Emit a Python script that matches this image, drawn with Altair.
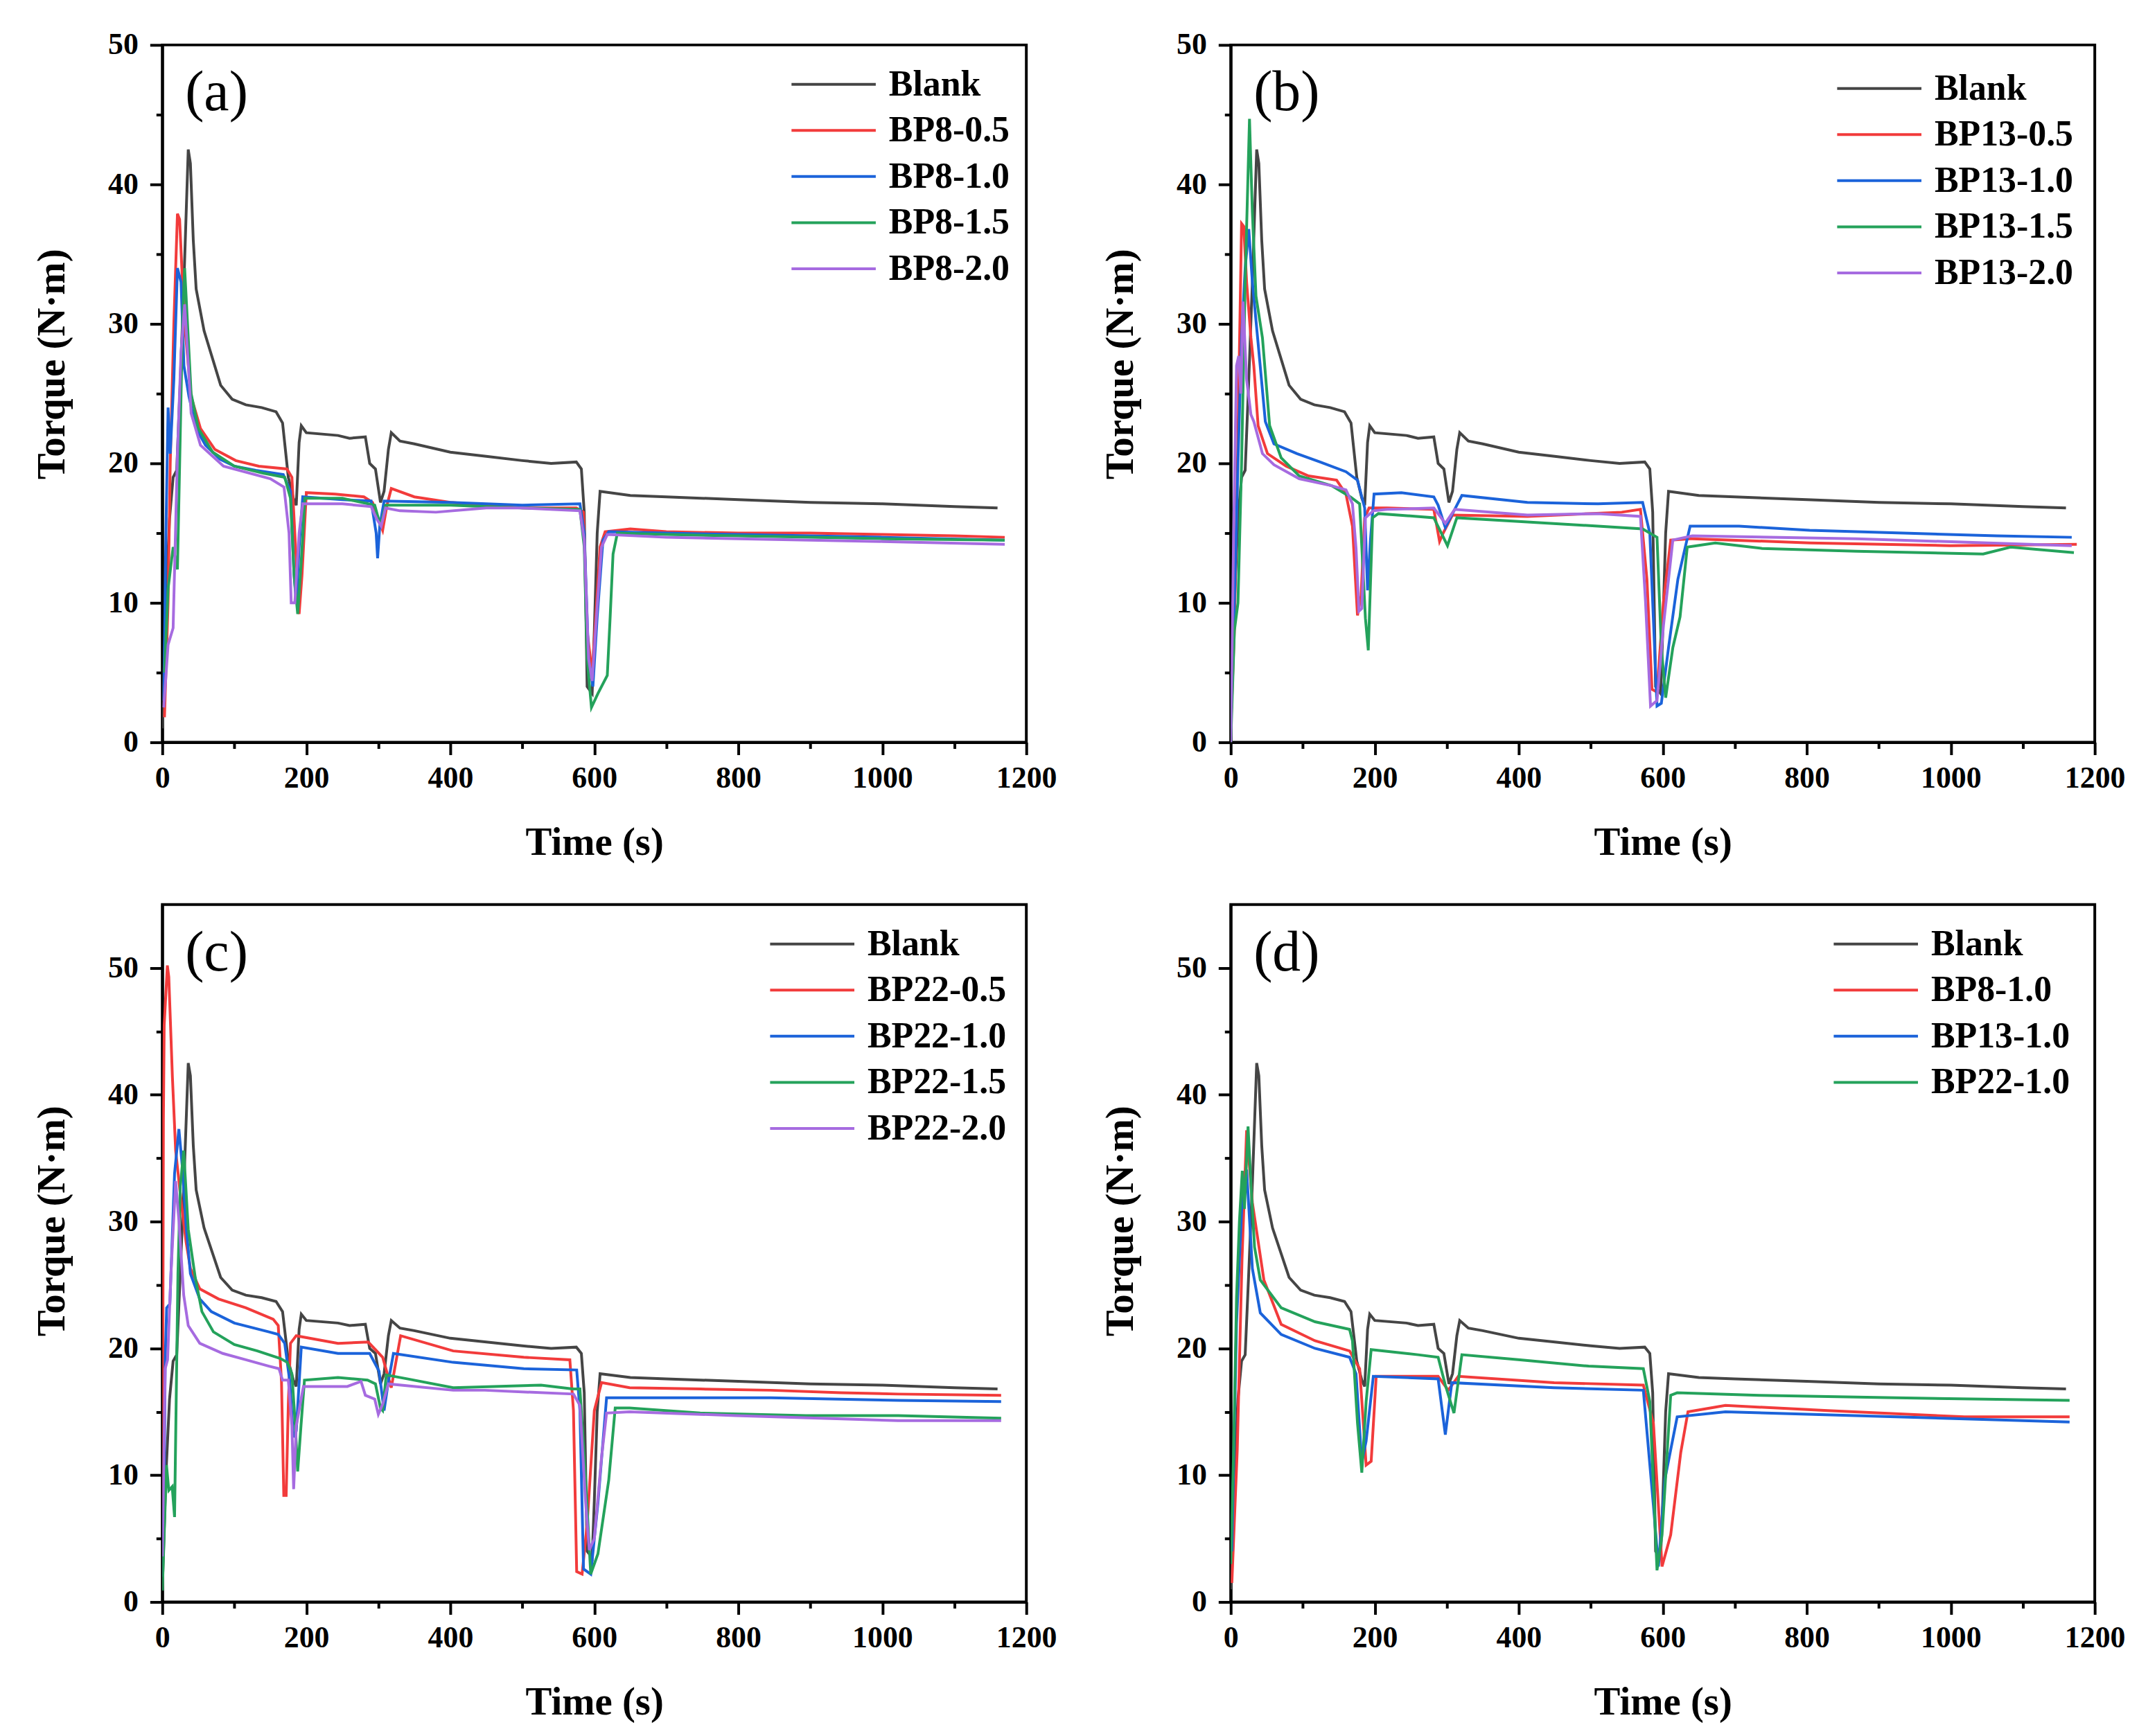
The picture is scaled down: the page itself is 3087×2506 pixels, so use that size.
import altair as alt
import pandas as pd

# ---------------- data (time s, torque N·m) ----------------
blank = [(0, 1), (5, 10), (10, 16), (15, 19), (20, 19.5), (25, 26), (30, 33), (36, 42.5), (39, 41.5),
         (43, 36), (47, 32.5), (58, 29.5), (71, 27.3), (81, 25.6), (97, 24.6), (116, 24.2), (138, 24.0),
         (158, 23.7), (167, 22.9), (175, 19.0), (182, 17.5), (186, 17.0), (190, 21.5), (193, 22.7),
         (200, 22.2), (244, 22.0), (260, 21.8), (282, 21.9), (288, 20.0), (296, 19.6), (303, 17.2),
         (308, 18.0), (314, 21.0), (318, 22.2), (330, 21.6), (350, 21.4), (400, 20.8), (450, 20.5),
         (500, 20.2), (540, 20.0), (575, 20.1), (582, 19.6), (586, 16.5), (590, 4.0), (597, 3.5),
         (600, 8.0), (604, 15.0), (608, 18.0), (650, 17.7), (700, 17.6), (800, 17.4), (900, 17.2),
         (1000, 17.1), (1100, 16.9), (1160, 16.8)]

a_bp8_05 = [(3, 1.8), (8, 10), (11, 20), (16, 30), (21, 37.9), (24, 37.5), (28, 33), (31, 30), (40, 24.8),
            (53, 22.5), (73, 21), (102, 20.2), (134, 19.8), (173, 19.6), (180, 19), (184, 15), (190, 9.2),
            (194, 12), (200, 17.9), (240, 17.8), (280, 17.6), (292, 17.2), (300, 16), (306, 15.2), (312, 17),
            (318, 18.2), (350, 17.6), (400, 17.2), (500, 16.8), (575, 16.8), (585, 16.5), (590, 8), (597, 4.9),
            (602, 9), (608, 14), (615, 15.1), (650, 15.3), (700, 15.1), (800, 15.0), (900, 15.0), (1000, 14.9),
            (1100, 14.8), (1170, 14.7)]
a_bp8_10 = [(2, 3), (5, 15), (8, 24), (11, 20.7), (16, 26), (21, 34), (26, 33), (30, 27), (37, 24.8), (47, 22.5),
            (60, 21.3), (80, 20.3), (100, 19.8), (130, 19.5), (168, 19.2), (178, 18), (183, 12), (186, 10),
            (190, 14), (195, 17.6), (250, 17.4), (290, 17.3), (297, 15), (299, 13.2), (302, 15.5), (308, 17.3),
            (400, 17.2), (500, 17.0), (580, 17.1), (586, 15), (592, 6), (598, 4), (604, 9), (612, 14.5),
            (620, 15.1), (700, 15.0), (800, 14.9), (1000, 14.7), (1170, 14.5)]
a_bp8_15 = [(3, 5), (8, 11), (15, 14), (21, 12.4), (24, 19.8), (28, 30), (31, 34), (35, 30), (40, 25), (50, 22.5),
            (70, 20.8), (100, 19.8), (140, 19.3), (170, 19.0), (178, 17.5), (183, 12), (188, 9.2), (193, 13),
            (198, 17.5), (250, 17.5), (295, 17.0), (303, 15.5), (310, 17.0), (400, 17.0), (500, 16.8),
            (580, 16.7), (586, 14), (590, 6), (596, 2.5), (605, 3.5), (618, 4.8), (622, 9), (626, 13.5),
            (632, 15.0), (700, 14.9), (800, 14.8), (1000, 14.6), (1170, 14.5)]
a_bp8_20 = [(2, 2.5), (8, 7), (15, 8.2), (21, 20.7), (26, 28), (31, 31.4), (35, 28), (40, 23.6), (53, 21.3),
            (85, 19.8), (150, 18.9), (169, 18.3), (176, 15), (179, 10), (184, 10), (190, 15), (195, 17.1),
            (250, 17.1), (290, 16.9), (298, 16), (304, 15.5), (310, 16.8), (330, 16.6), (380, 16.5), (450, 16.8),
            (500, 16.8), (580, 16.6), (586, 14.5), (592, 6), (597, 4.4), (603, 9), (610, 14), (618, 14.9),
            (700, 14.7), (800, 14.6), (1000, 14.4), (1170, 14.2)]

b_bp13_05 = [(0, 1), (5, 8), (10, 22), (15, 37.2), (18, 37), (22, 33), (28, 29), (32, 27), (38, 22.7), (51, 20.7),
             (77, 19.8), (108, 19.1), (147, 18.8), (160, 17.8), (169, 15.5), (176, 9.1), (181, 10.5), (186, 16.1),
             (192, 16.8), (217, 16.8), (282, 16.7), (290, 14.4), (295, 15.0), (308, 16.3), (412, 16.2),
             (543, 16.5), (569, 16.7), (578, 11.7), (585, 3.8), (592, 3.6), (601, 10.1), (611, 14.5),
             (641, 14.6), (804, 14.3), (999, 14.1), (1175, 14.2)]
b_bp13_10 = [(0, 1), (5, 10), (10, 20), (15, 29), (20, 34), (25, 36.8), (30, 33), (38, 28.6), (48, 23), (60, 21.4),
             (92, 20.7), (124, 20.1), (160, 19.4), (176, 18.8), (186, 16.8), (190, 10.9), (194, 14.5), (199, 17.8),
             (237, 17.9), (282, 17.6), (288, 17.0), (298, 15.4), (311, 16.7), (321, 17.7), (412, 17.2),
             (510, 17.1), (572, 17.2), (582, 15.0), (592, 2.6), (598, 2.8), (608, 6.8), (621, 11.7),
             (638, 15.5), (706, 15.5), (804, 15.2), (934, 15.0), (1064, 14.8), (1168, 14.7)]
b_bp13_15 = [(0, 0), (5, 8), (10, 10), (15, 20), (20, 33), (26, 44.7), (30, 38), (35, 32), (44, 29), (54, 22.7),
             (70, 20.4), (95, 19.1), (140, 18.4), (166, 17.6), (179, 17.1), (187, 8.9), (191, 6.6), (197, 16.1),
             (205, 16.4), (282, 16.1), (301, 14.1), (314, 16.1), (412, 15.8), (510, 15.5), (572, 15.3),
             (592, 14.7), (598, 6.8), (604, 3.2), (614, 6.8), (624, 9), (634, 14.0), (673, 14.3), (738, 13.9),
             (869, 13.7), (1045, 13.5), (1083, 14.0), (1171, 13.6)]
b_bp13_20 = [(0, 0), (4, 15), (8, 27), (11, 27.7), (14, 25), (17, 31.6), (22, 26), (28, 23.5), (32, 23), (44, 20.7),
             (60, 19.9), (95, 18.9), (140, 18.4), (160, 18.1), (169, 17.1), (174, 13.9), (178, 9.4), (182, 9.6),
             (187, 16.1), (198, 16.6), (217, 16.7), (282, 16.8), (298, 15.7), (311, 16.7), (412, 16.3),
             (510, 16.4), (569, 16.2), (576, 10.1), (583, 2.6), (592, 3.0), (601, 8.4), (614, 14.5),
             (641, 14.8), (869, 14.6), (1168, 14.1)]

c_bp22_05 = [(0, 2), (1.5, 38), (2.6, 45.5), (7, 50.2), (9, 49.3), (14, 41.4), (18.5, 35.6), (26.5, 31.4),
             (33, 28.4), (39, 26.3), (52, 24.7), (78, 23.9), (116, 23.2), (154, 22.3), (161, 21.8), (165.5, 17.4),
             (168.7, 8.4), (172, 8.4), (175, 15.6), (178, 20.4), (186, 21), (244, 20.4), (286, 20.5), (306, 19.3),
             (318, 16.9), (331, 21), (404, 19.8), (502, 19.3), (566, 19.1), (571, 15.1), (575.5, 2.4), (583, 2.2),
             (590, 6.1), (600, 15.1), (610, 17.3), (649, 16.9), (747, 16.8), (845, 16.7), (943, 16.5),
             (1022, 16.4), (1165, 16.3)]
c_bp22_10 = [(0, 2), (2.6, 8.8), (4, 19), (6, 23.2), (10.5, 23.5), (17, 33.8), (23, 37.3), (28, 34.2), (33, 29.7),
             (39, 25.9), (52, 23.9), (68, 22.9), (100, 22), (148, 21.3), (161, 21.1), (170, 20.4), (177, 17.4),
             (182, 13), (186, 13.5), (193, 20.1), (244, 19.6), (288, 19.6), (301, 18.2), (308, 15.1), (314, 17.4),
             (321, 19.6), (404, 18.9), (502, 18.4), (575.5, 18.3), (580, 15.1), (585, 2.6), (595, 2.2),
             (605, 7.8), (617, 16.1), (649, 16.1), (845, 16.1), (1022, 15.9), (1165, 15.8)]
c_bp22_15 = [(0, 0.9), (2.6, 5.3), (5.8, 10.8), (9, 8.8), (13.7, 9.1), (17, 6.7), (21.7, 25.9), (25, 32.8),
             (29.7, 35.6), (36, 29.4), (45.7, 25.6), (55, 22.9), (71, 21.3), (100, 20.3), (132, 19.8), (164, 19.2),
             (173.5, 18.9), (180, 18), (184.7, 13.9), (188, 10.3), (192.6, 13.9), (197.4, 17.5), (244, 17.7),
             (285, 17.5), (296, 17.2), (303, 15.3), (306, 15.1), (311, 17.9), (340, 17.6), (404, 16.9),
             (526, 17.1), (570, 16.8), (580, 16.8), (588, 9.6), (595, 2.2), (605, 3.8), (620, 9.6), (629, 15.3),
             (649, 15.3), (747, 14.9), (894, 14.7), (1022, 14.7), (1165, 14.5)]
c_bp22_20 = [(0, 3.6), (4, 18.4), (7.3, 19.1), (12, 25.9), (18.5, 33.2), (23, 30.1), (29.7, 24.2), (36, 21.8),
             (52, 20.4), (84, 19.6), (116, 19.1), (148, 18.6), (162, 18.4), (167, 17.5), (175, 17.5), (180, 13.9),
             (182.4, 8.9), (186, 13.9), (196, 17), (257, 17.0), (276, 17.4), (282, 16.3), (295, 16.0), (300, 14.8),
             (306, 15.6), (314, 17.2), (404, 16.7), (448, 16.7), (571, 16.4), (580, 15.5), (588, 7.8), (593, 4.1),
             (600, 5.0), (610, 11.4), (617, 14.9), (649, 15.0), (796, 14.7), (1022, 14.3), (1165, 14.3)]

d_bp8_10 = [(1.5, 1.5), (9, 12), (15.6, 27), (22, 37.2), (30, 31.5), (46, 25.4), (70, 21.9), (117, 20.6),
            (165, 19.8), (179, 18.4), (188, 10.8), (195, 11.1), (202, 17.8), (288, 17.8), (302, 16.7), (316, 17.8),
            (449, 17.3), (573, 17.1), (587, 14.1), (599, 2.8), (611, 5.3), (625, 11.8), (635, 15.0), (687, 15.5),
            (829, 15.1), (1019, 14.6), (1165, 14.6)]
d_bp13_10 = [(1.5, 4), (8, 22), (15.6, 31.5), (22, 34.1), (30, 26.3), (41, 22.8), (70, 21.1), (117, 20),
             (165, 19.3), (174, 18), (182, 11), (188, 12.7), (198, 17.8), (288, 17.6), (298, 13.2), (307, 17.3),
             (449, 16.9), (573, 16.7), (587, 7.6), (594, 2.8), (603, 9.7), (620, 14.6), (687, 15.0), (924, 14.6),
             (1165, 14.2)]
d_bp22_10 = [(0, 3), (4, 12), (8, 24), (12, 30), (16, 34), (19, 31), (24, 37.5), (28, 33), (33, 28), (41, 25.4),
             (70, 23.2), (117, 22.1), (165, 21.5), (169, 20.6), (176, 14.1), (182, 10.2), (188, 15.8), (195, 19.9),
             (260, 19.5), (288, 19.3), (298, 17.1), (310, 14.9), (321, 19.5), (402, 19.1), (497, 18.6),
             (573, 18.4), (582, 15.8), (592, 2.5), (599, 5.3), (611, 16.3), (620, 16.5), (734, 16.3),
             (924, 16.1), (1165, 15.9)]

names_a = ["Blank", "BP8-0.5", "BP8-1.0", "BP8-1.5", "BP8-2.0"]
names_b = ["Blank", "BP13-0.5", "BP13-1.0", "BP13-1.5", "BP13-2.0"]
names_c = ["Blank", "BP22-0.5", "BP22-1.0", "BP22-1.5", "BP22-2.0"]
names_d = ["Blank", "BP8-1.0", "BP13-1.0", "BP22-1.0"]
panel_labels = ["(a)", "(b)", "(c)", "(d)"]

x_ticks = list(range(0, 1201, 100))
y_ticks = list(range(0, 51, 5))

colors5 = ["#454545", "#F23B3B", "#1B63DA", "#24A25B", "#A66BE0"]
colors4 = ["#454545", "#F23B3B", "#1B63DA", "#24A25B"]

SERIF = "Liberation Serif"
W, H = 1251, 1010
LW = 4


def panel(series, names, colors, label, ymax, title_y, lx, ly, label_y):
    rows = []
    for name, pts in zip(names, series):
        for t, v in pts:
            rows.append({"t": t, "v": v, "s": name})
    df = pd.DataFrame(rows)
    xaxis = alt.Axis(values=x_ticks, title="Time (s)", labelFlush=False, labelOverlap=False, grid=False,
                     labelExpr="datum.value % 200 === 0 ? datum.label : ''",
                     tickSize={"condition": {"test": "datum.value % 200 === 0", "value": 18}, "value": 9},
                     labelPadding=12, titleY=162, titleBaseline="alphabetic", format="d")
    yaxis = alt.Axis(values=y_ticks, title="Torque (N·m)", labelFlush=False, labelOverlap=False, grid=False,
                     labelExpr="datum.value % 10 === 0 ? datum.label : ''",
                     tickSize={"condition": {"test": "datum.value % 10 === 0", "value": 18}, "value": 9},
                     labelPadding=17, titleX=-142, titleY=title_y, titleBaseline="alphabetic", format="d")
    lines = alt.Chart(df).mark_line(strokeWidth=LW, clip=True).encode(
        x=alt.X("t:Q", scale=alt.Scale(domain=[0, 1200], nice=False, zero=False), axis=xaxis),
        y=alt.Y("v:Q", scale=alt.Scale(domain=[0, ymax], nice=False), axis=yaxis),
        color=alt.Color("s:N", scale=alt.Scale(domain=names, range=colors),
                        legend=alt.Legend(title=None, orient="none", legendX=lx, legendY=ly,
                                          symbolType="M-3,0H3", symbolSize=1654, symbolStrokeWidth=LW,
                                          labelFont=SERIF, labelFontSize=52, labelFontWeight="bold",
                                          labelColor="black", labelOffset=54, rowPadding=14.8, padding=0,
                                          labelLimit=0)),
    )
    txt = alt.Chart(pd.DataFrame({"lab": [label]})).mark_text(
        font=SERIF, fontSize=82, align="left", baseline="middle", color="black"
    ).encode(x=alt.value(33), y=alt.value(label_y), text="lab:N")
    return alt.layer(lines, txt).properties(width=W, height=H)


pa = panel([blank, a_bp8_05, a_bp8_10, a_bp8_15, a_bp8_20], names_a, colors5, panel_labels[0], 50, 462, 946, 31, 69)
pb = panel([blank, b_bp13_05, b_bp13_10, b_bp13_15, b_bp13_20], names_b, colors5, panel_labels[1], 50, 462, 913, 37, 69)
pc = panel([blank, c_bp22_05, c_bp22_10, c_bp22_15, c_bp22_20], names_c, colors5, panel_labels[2], 55, 458, 915, 31, 70)
pd_ = panel([blank, d_bp8_10, d_bp13_10, d_bp22_10], names_d, colors4, panel_labels[3], 55, 458, 908, 31, 70)

row1 = alt.hconcat(pa, pb, spacing=60).resolve_scale(color="independent", x="independent", y="independent")
row2 = alt.hconcat(pc, pd_, spacing=60).resolve_scale(color="independent", x="independent", y="independent")

chart = alt.vconcat(row1, row2, spacing=58).resolve_scale(
    color="independent", x="independent", y="independent"
).properties(
    padding={"left": 37, "top": 29, "right": 10, "bottom": 10},
    background="white",
).configure_view(
    stroke="black", strokeWidth=4
).configure_axis(
    labelFont=SERIF, labelFontSize=44, labelFontWeight="bold", labelColor="black",
    titleFont=SERIF, titleFontSize=57, titleFontWeight="bold", titleColor="black",
    domainColor="black", domainWidth=4, tickColor="black", tickWidth=4, grid=False,
)

chart.save("out.html", embed_options={"renderer": "svg", "actions": False})
